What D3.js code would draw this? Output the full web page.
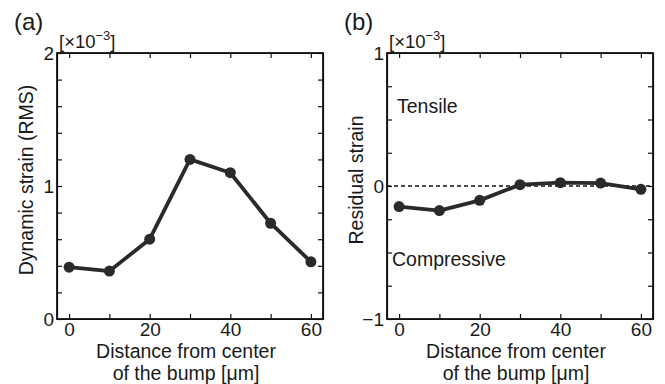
<!DOCTYPE html>
<html lang="en">
<head>
<meta charset="UTF-8">
<title>Dynamic and residual strain vs distance from bump</title>
<script src="https://d3js.org/d3.v7.min.js"></script>
<style>
    body { margin: 0; padding: 0; background: #fff; }
    svg { display: block; font-family: "Liberation Sans", Arial, sans-serif; }
    .axis path, .axis line { stroke: #111; stroke-width: 1.2px; }
    .axis text { font-size: 19px; fill: #1a1a1a; }
    .label { font-size: 19.5px; fill: #1a1a1a; }
</style>
</head>
<body>
<svg id="chart" width="665" height="384"></svg>
<script>
    // data (strain in units of 1e-3)
    const distance = [0, 10, 20, 30, 40, 50, 60];
    const dynamicStrain = [0.39, 0.36, 0.60, 1.20, 1.10, 0.72, 0.43];
    const residualStrain = [-0.155, -0.185, -0.108, 0.01, 0.025, 0.022, -0.025];

    const xTickLabels = [0, 20, 40, 60];
    const xTickMinor = [0, 10, 20, 30, 40, 50, 60];
    const yTicksA = [0, 1, 2];
    const yMinorA = [0, 0.2, 0.4, 0.6, 0.8, 1, 1.2, 1.4, 1.6, 1.8, 2];
    const yTicksB = [-1, 0, 1];
    const yMinorB = [-1, -0.75, -0.5, -0.25, 0, 0.25, 0.5, 0.75, 1];

    const svg = d3.select('#chart');
    const plotW = 266, plotH = 266, plotTop = 53;

    function drawPanel(opts) {
        const g = svg.append('g').attr('transform', `translate(${opts.left},${plotTop})`);

        const x = d3.scaleLinear().domain([-3, 63]).range([0, plotW]);
        const y = d3.scaleLinear().domain(opts.yDomain).range([plotH, 0]);

        // inward minor ticks on all four sides
        g.append('g').attr('class', 'axis').attr('transform', `translate(0,${plotH})`)
            .call(d3.axisBottom(x).tickValues(xTickMinor).tickSize(-5).tickSizeOuter(0).tickFormat(''));
        g.append('g').attr('class', 'axis')
            .call(d3.axisTop(x).tickValues(xTickMinor).tickSize(-5).tickSizeOuter(0).tickFormat(''));
        g.append('g').attr('class', 'axis')
            .call(d3.axisLeft(y).tickValues(opts.yMinor).tickSize(-5).tickSizeOuter(0).tickFormat(''));
        g.append('g').attr('class', 'axis').attr('transform', `translate(${plotW},0)`)
            .call(d3.axisRight(y).tickValues(opts.yMinor).tickSize(-5).tickSizeOuter(0).tickFormat(''));

        // labelled ticks
        g.append('g').attr('class', 'axis').attr('transform', `translate(0,${plotH})`)
            .call(d3.axisBottom(x).tickValues(xTickLabels).tickSize(0).tickPadding(4).tickFormat(d3.format('d')))
            .call(a => a.select('.domain').remove());
        g.append('g').attr('class', 'axis')
            .call(d3.axisLeft(y).tickValues(opts.yTicks).tickSize(0).tickPadding(3)
                .tickFormat(d => d < 0 ? '\u2212' + Math.abs(d) : d))
            .call(a => a.select('.domain').remove());

        // box
        g.append('rect')
            .attr('width', plotW).attr('height', plotH)
            .attr('fill', 'none').attr('stroke', '#111').attr('stroke-width', 1.8);

        if (opts.zeroLine) {
            g.append('line')
                .attr('x1', 0).attr('x2', plotW)
                .attr('y1', y(0)).attr('y2', y(0))
                .attr('stroke', '#111').attr('stroke-width', 1.7)
                .attr('stroke-dasharray', '4,3');
        }

        const pts = distance.map((d, i) => ({ x: d, y: opts.values[i] }));
        g.append('path')
            .datum(pts)
            .attr('fill', 'none').attr('stroke', '#2a2a2a').attr('stroke-width', 3.8)
            .attr('stroke-linejoin', 'round')
            .attr('d', d3.line().x(d => x(d.x)).y(d => y(d.y)));
        g.selectAll('circle.pt').data(pts).enter().append('circle')
            .attr('class', 'pt')
            .attr('cx', d => x(d.x)).attr('cy', d => y(d.y))
            .attr('r', 5.5).attr('fill', '#2a2a2a');

        // panel letter and exponent
        svg.append('text').attr('class', 'label').style('font-size', '24px')
            .attr('x', opts.left - 43).attr('y', 30).text(opts.letter);
        const ex = svg.append('text').attr('class', 'label').style('font-size', '18.5px')
            .attr('x', opts.left + 2).attr('y', 48);
        ex.append('tspan').text('[\u00d710');
        ex.append('tspan').attr('dy', -8).style('font-size', '13px').text('\u22123');
        ex.append('tspan').attr('dy', 8).text(']');

        // axis titles
        svg.append('text').attr('class', 'label')
            .attr('text-anchor', 'middle')
            .attr('transform', `translate(${opts.left - 24},${plotTop + 127}) rotate(-90)`)
            .text(opts.yLabel);
        svg.append('text').attr('class', 'label').attr('text-anchor', 'middle')
            .attr('x', opts.left + 129).attr('y', 358).text('Distance from center');
        svg.append('text').attr('class', 'label').attr('text-anchor', 'middle')
            .attr('x', opts.left + 129).attr('y', 380).text('of the bump [\u03bcm]');

        if (opts.notes) {
            opts.notes.forEach(n => {
                g.append('text').attr('class', 'label')
                    .attr('x', n.dx).attr('y', y(n.v)).text(n.text);
            });
        }
    }

    drawPanel({
        left: 57, letter: '(a)', yDomain: [0, 2], yTicks: yTicksA, yMinor: yMinorA,
        values: dynamicStrain, yLabel: 'Dynamic strain (RMS)'
    });
    drawPanel({
        left: 387, letter: '(b)', yDomain: [-1, 1], yTicks: yTicksB, yMinor: yMinorB,
        values: residualStrain, yLabel: 'Residual strain', zeroLine: true,
        notes: [{ text: 'Tensile', v: 0.55, dx: 10 }, { text: 'Compressive', v: -0.6, dx: 5 }]
    });
</script>
</body>
</html>
